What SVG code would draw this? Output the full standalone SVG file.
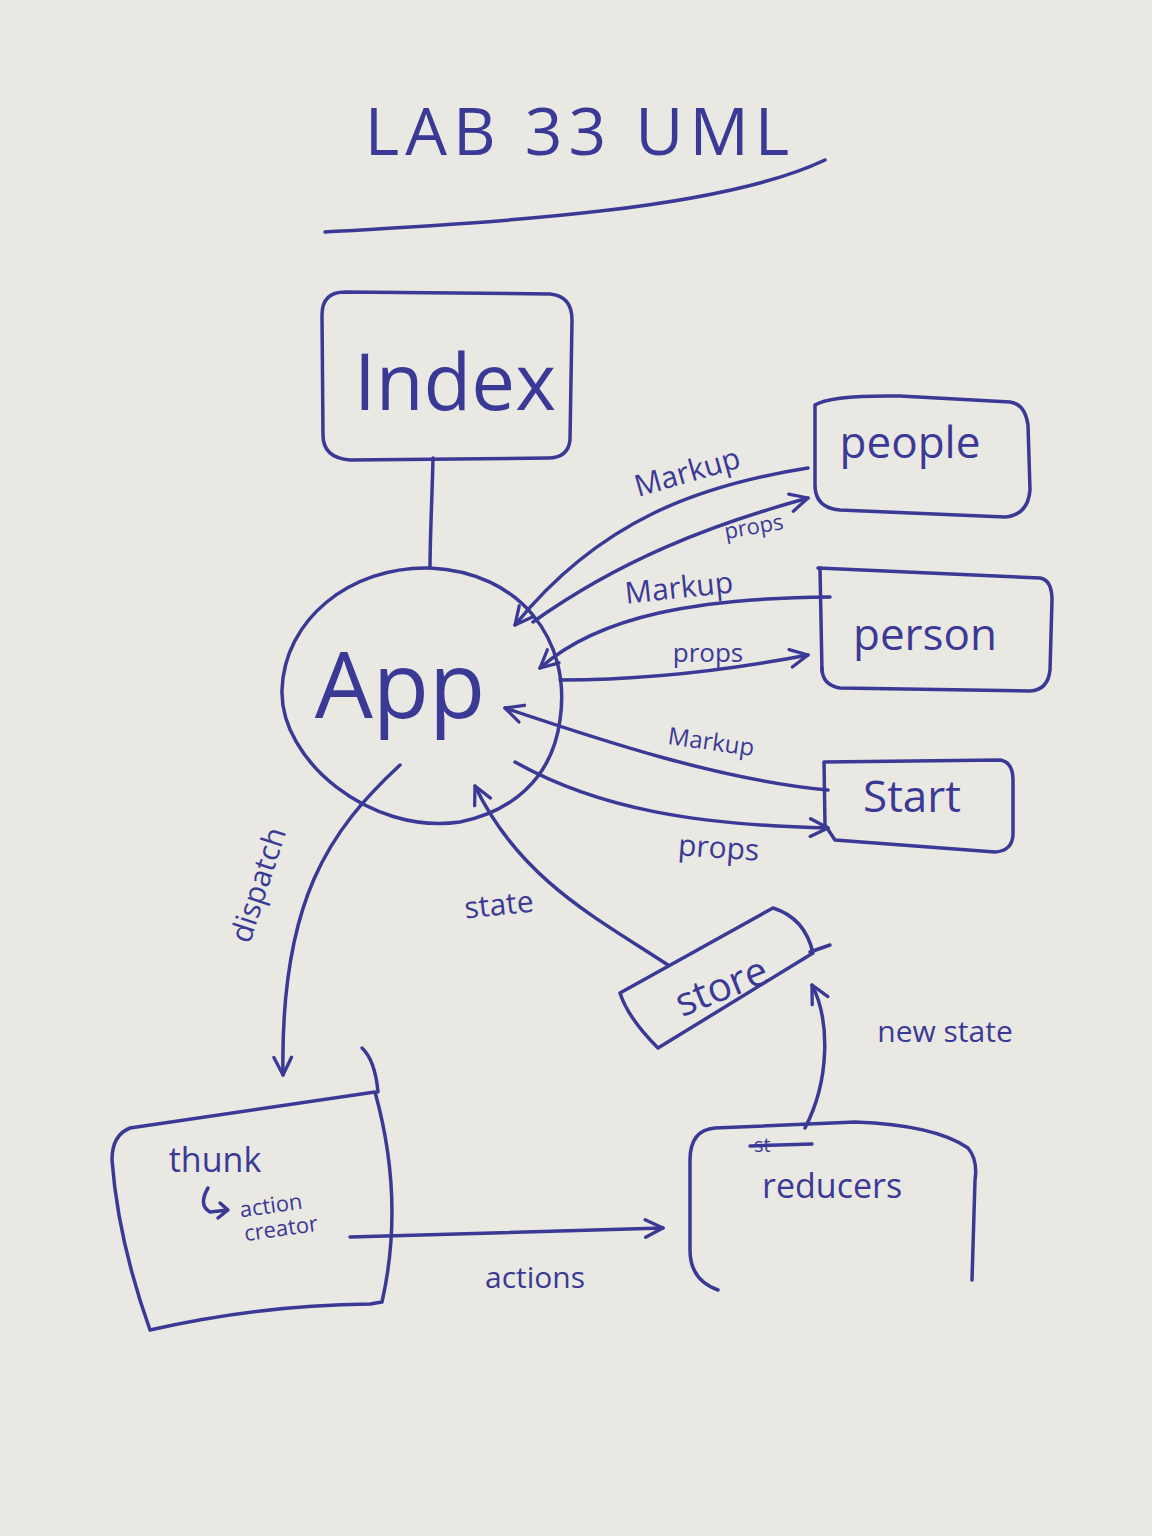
<svg xmlns="http://www.w3.org/2000/svg" width="1152" height="1536" viewBox="0 0 1152 1536">
<defs>
<marker id="arr" viewBox="0 0 20 20" refX="18" refY="10" markerWidth="22" markerHeight="22" markerUnits="userSpaceOnUse" orient="auto">
<path d="M2,2 L18,10 L2,18" fill="none" stroke="#3a3a96" stroke-width="3" stroke-linejoin="round" stroke-linecap="round"/>
</marker>
<style>
.ink{fill:none;stroke:#3a3a96;stroke-width:3.5;stroke-linecap:round;stroke-linejoin:round}
.t{fill:#3a3a96;font-family:"Open Sans","Liberation Sans",sans-serif}
.lbl{font-size:30px}
</style>
</defs>
<rect width="1152" height="1536" fill="#eae8e3"/>

<g id="title">
<text class="t" x="580" y="155" font-size="66" text-anchor="middle" letter-spacing="6">LAB 33 UML</text>
<path class="ink" d="M325,232 C500,222 720,210 825,160"/>
</g>

<g id="index">
<path class="ink" d="M345,292 L550,294 Q572,296 572,320 L570,440 Q568,458 548,458 L350,460 Q323,458 323,435 L322,315 Q322,292 345,292 Z"/>
<text class="t" x="455" y="410" font-size="78" text-anchor="middle">Index</text>
</g>

<g id="app">
<path class="ink" d="M430,568 C520,572 572,640 560,720 C552,780 510,812 460,822 C370,835 280,760 282,690 C284,620 350,566 430,568 Z"/>
<text class="t" x="400" y="718" font-size="92" text-anchor="middle">App</text>
</g>

<g id="people">
<path class="ink" d="M815,405 Q830,395 900,396 L1010,402 Q1025,404 1028,425 L1030,490 Q1028,515 1005,517 L840,510 Q815,508 815,485 Z"/>
<text class="t" x="910" y="458" font-size="44" text-anchor="middle">people</text>
</g>

<g id="person">
<path class="ink" d="M818,568 L1040,578 Q1052,580 1052,600 L1050,670 Q1048,690 1030,691 L840,688 Q822,685 822,668"/>
<path class="ink" d="M820,568 L822,672"/>
<text class="t" x="925" y="650" font-size="44" text-anchor="middle">person</text>
</g>

<g id="start">
<path class="ink" d="M824,762 L1000,760 Q1013,762 1013,780 L1013,835 Q1012,851 995,852 L835,840 L825,825 Z"/>
<text class="t" x="912" y="812" font-size="44" text-anchor="middle">Start</text>
</g>

<g id="store">
<path class="ink" d="M620,993 L773,908 Q805,918 813,953 L658,1048 Q628,1018 620,993 Z"/>
<path class="ink" d="M810,952 L830,945"/>
<text class="t" x="722" y="1000" font-size="40" text-anchor="middle" transform="rotate(-22 722 988)">store</text>
</g>

<g id="thunk">
<path class="ink" d="M130,1128 L375,1092 Q405,1200 382,1302 L370,1304 Q260,1305 150,1330 Q118,1240 112,1160 Q112,1135 130,1128 Z"/>
<path class="ink" d="M362,1048 Q375,1060 378,1092"/>
<text class="t" x="215" y="1172" font-size="34" text-anchor="middle">thunk</text>
<path class="ink" d="M208,1188 Q198,1205 210,1212 L228,1210 M220,1203 L228,1210 L218,1218"/>
<text class="t" x="272" y="1213" font-size="22" text-anchor="middle" transform="rotate(-8 272 1213)">action</text>
<text class="t" x="282" y="1236" font-size="22" text-anchor="middle" transform="rotate(-8 282 1236)">creator</text>
</g>

<g id="reducers">
<path class="ink" d="M718,1290 Q690,1280 690,1250 L690,1160 Q690,1130 715,1128 L855,1122 Q935,1125 968,1148 Q978,1160 975,1180 L972,1280"/>
<text class="t" x="762" y="1198" font-size="34">reducers</text>
<text class="t" x="754" y="1152" font-size="20">st</text>
<path class="ink" d="M750,1146 L812,1144" stroke-width="5"/>
</g>

<g id="connectors">
<path class="ink" d="M433,458 C432,500 430,540 430,568"/>
<path class="ink" marker-end="url(#arr)" d="M808,468 C700,485 600,520 515,625"/>
<path class="ink" marker-end="url(#arr)" d="M533,622 C620,560 710,525 808,498"/>
<path class="ink" marker-end="url(#arr)" d="M830,597 C700,598 600,615 540,668"/>
<path class="ink" marker-end="url(#arr)" d="M560,680 C650,680 740,668 808,655"/>
<path class="ink" marker-end="url(#arr)" d="M828,790 C720,780 600,740 505,708"/>
<path class="ink" marker-end="url(#arr)" d="M515,762 C600,810 700,825 828,828"/>
<path class="ink" marker-end="url(#arr)" d="M668,965 C600,920 520,880 475,786"/>
<path class="ink" marker-end="url(#arr)" d="M400,765 C330,830 280,900 283,1075"/>
<path class="ink" marker-end="url(#arr)" d="M350,1237 L663,1228"/>
<path class="ink" marker-end="url(#arr)" d="M805,1128 C830,1080 830,1020 812,985"/>
<text class="t lbl" x="690" y="482" transform="rotate(-16 690 482)" text-anchor="middle">Markup</text>
<text class="t" x="755" y="534" font-size="22" transform="rotate(-10 755 534)" text-anchor="middle">props</text>
<text class="t lbl" x="680" y="598" transform="rotate(-6 680 598)" text-anchor="middle" font-size="26">Markup</text>
<text class="t" x="708" y="662" font-size="26" text-anchor="middle">props</text>
<text class="t" x="710" y="750" font-size="24" transform="rotate(8 710 750)" text-anchor="middle">Markup</text>
<text class="t lbl" x="718" y="858" transform="rotate(4 718 858)" text-anchor="middle">props</text>
<text class="t lbl" x="500" y="915" transform="rotate(-6 500 915)" text-anchor="middle">state</text>
<text class="t lbl" x="268" y="888" transform="rotate(-72 268 888)" text-anchor="middle">dispatch</text>
<text class="t lbl" x="535" y="1288" text-anchor="middle">actions</text>
<text class="t lbl" x="945" y="1042" text-anchor="middle">new state</text>
</g>
</svg>
